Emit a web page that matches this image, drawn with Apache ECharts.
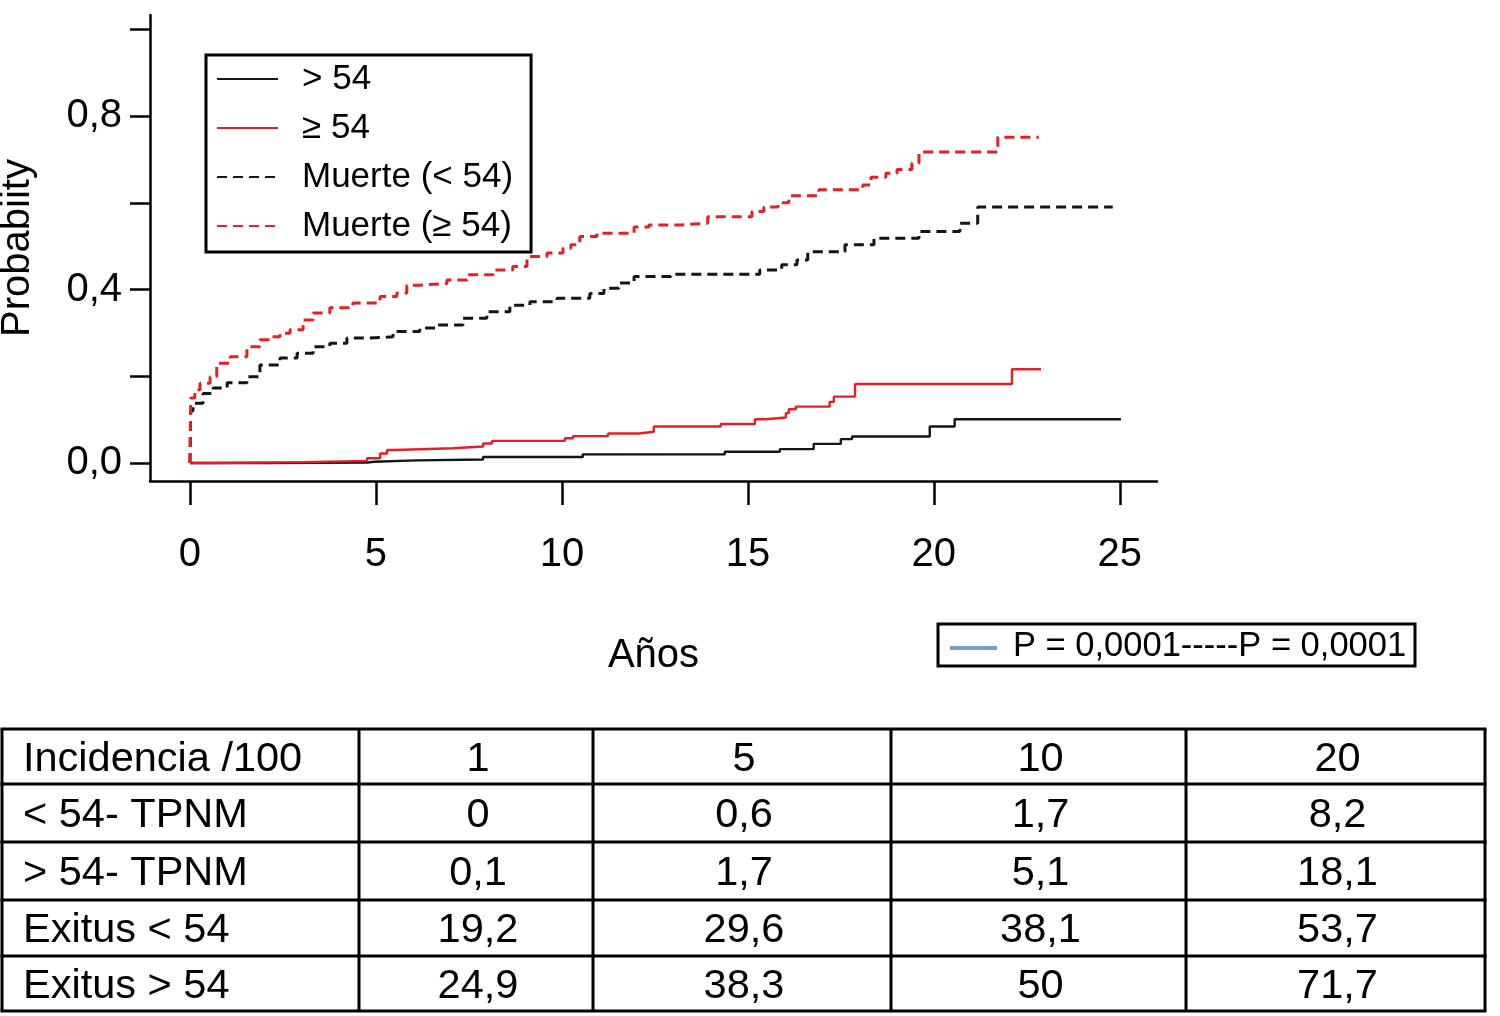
<!DOCTYPE html>
<html>
<head>
<meta charset="utf-8">
<script src="https://cdn.jsdelivr.net/npm/echarts@6/dist/echarts.min.js"></script>
<style>html,body{margin:0;padding:0;background:#fff}#c{width:1500px;height:1016px}</style>
</head>
<body>
<div id="c"></div>
<script>
// ---- data ----
const seriesNames = ['> 54', '\u2265 54', 'Muerte (< 54)', 'Muerte (\u2265 54)'];
const tpnmUnder = [[0,0],[2.10,0.001],[4.76,0.003],[4.95,0.006],[6.10,0.008],[7.88,0.014],[10.56,0.020],[14.38,0.026],[15.86,0.032],[16.77,0.044],[17.50,0.055],[17.80,0.061],[19.89,0.084],[20.56,0.101],[25.03,0.101]];
const tpnmOver = [[0,0],[0.62,0.002],[3.04,0.005],[4.76,0.011],[5.11,0.022],[5.30,0.030],[5.51,0.034],[7.07,0.038],[7.88,0.045],[8.12,0.051],[10.08,0.057],[10.30,0.062],[11.24,0.068],[12.07,0.072],[12.47,0.084],[14.27,0.090],[15.19,0.101],[15.48,0.105],[16.02,0.115],[16.10,0.124],[16.29,0.130],[17.20,0.141],[17.31,0.153],[17.88,0.182],[22.10,0.216],[22.88,0.216]];
const deathUnder = [[0,0],[0.02,0.12],[0.08,0.138],[0.35,0.16],[0.62,0.173],[1.0,0.185],[1.53,0.199],[1.88,0.226],[2.42,0.242],[2.88,0.253],[3.31,0.268],[3.76,0.276],[4.22,0.288],[4.76,0.291],[5.46,0.303],[6.18,0.311],[6.64,0.318],[7.34,0.334],[7.98,0.349],[8.60,0.364],[9.14,0.372],[9.87,0.38],[10.75,0.391],[11.13,0.403],[11.53,0.415],[11.94,0.43],[12.93,0.435],[15.32,0.445],[15.91,0.457],[16.32,0.468],[16.61,0.487],[17.61,0.503],[18.39,0.518],[19.60,0.534],[20.70,0.553],[21.18,0.59],[24.81,0.59]];
const deathOver = [[0,0],[0.02,0.15],[0.13,0.169],[0.27,0.184],[0.54,0.199],[0.72,0.23],[1.08,0.245],[1.53,0.268],[1.88,0.284],[2.15,0.291],[2.42,0.299],[2.69,0.307],[3.04,0.33],[3.31,0.346],[3.76,0.358],[4.38,0.369],[5.11,0.384],[5.56,0.392],[5.83,0.41],[6.18,0.414],[6.91,0.422],[7.45,0.434],[8.15,0.445],[8.68,0.453],[9.06,0.476],[9.60,0.484],[10.03,0.495],[10.24,0.503],[10.48,0.522],[10.94,0.53],[11.94,0.544],[12.34,0.549],[13.23,0.553],[13.92,0.568],[15.11,0.58],[15.43,0.59],[15.81,0.60],[16.10,0.616],[16.91,0.63],[18.09,0.641],[18.31,0.659],[18.71,0.668],[19.01,0.677],[19.41,0.691],[19.60,0.717],[21.72,0.751],[22.82,0.751]];
const xTicks = [0, 5, 10, 15, 20, 25];
const yTicks = [0, 0.2, 0.4, 0.6, 0.8, 1.0];
const yLabels = [0, 0.4, 0.8];
const pText = 'P = 0,0001-----P = 0,0001';
const tableHeader = ['Incidencia /100', '1', '5', '10', '20'];
const rowLabels = ['< 54- TPNM', '> 54- TPNM', 'Exitus < 54', 'Exitus > 54'];
const rowTpnmUnder = [0, 0.6, 1.7, 8.2];
const rowTpnmOver = [0.1, 1.7, 5.1, 18.1];
const rowExitusUnder = [19.2, 29.6, 38.1, 53.7];
const rowExitusOver = [24.9, 38.3, 50, 71.7];

// ---- layout/style ----
const FONT = '"Liberation Sans", Arial, Helvetica, sans-serif';
const RED = '#e41f26', BLACK = '#141414';
const fmt = v => String(v).replace('.', ',');

const chart = echarts.init(document.getElementById('c'), null, {renderer: 'canvas'});

// table graphic
const tableRows = [tableHeader].concat(rowLabels.map((l, i) => [l].concat([rowTpnmUnder, rowTpnmOver, rowExitusUnder, rowExitusOver][i].map(fmt))));
const colX = [2, 359, 593, 891, 1186, 1485];
const rowY = [729, 784, 842, 900, 956, 1011];
const tableEls = [];
rowY.forEach(y => tableEls.push({type: 'line', shape: {x1: colX[0] - 1.5, y1: y, x2: colX[5] + 1.5, y2: y}, style: {stroke: '#000', lineWidth: 3}}));
colX.forEach(x => tableEls.push({type: 'line', shape: {x1: x, y1: rowY[0], x2: x, y2: rowY[5]}, style: {stroke: '#000', lineWidth: 3}}));
tableRows.forEach((row, r) => {
  row.forEach((txt, c) => {
    const cy = (rowY[r] + rowY[r + 1]) / 2 + 3;
    tableEls.push({
      type: 'text',
      x: c === 0 ? 23 : (colX[c] + colX[c + 1]) / 2 + 2,
      y: cy,
      style: {text: txt, font: '41.5px ' + FONT, fill: '#000', align: c === 0 ? 'left' : 'center', verticalAlign: 'middle'}
    });
  });
});

const pEls = [
  {type: 'rect', shape: {x: 938, y: 624, width: 477, height: 42}, style: {fill: 'none', stroke: '#000', lineWidth: 3}},
  {type: 'line', shape: {x1: 950, y1: 648, x2: 997, y2: 648}, style: {stroke: '#7b9cc8', lineWidth: 4}},
  {type: 'text', x: 1013, y: 646, style: {text: pText, font: '34.5px ' + FONT, fill: '#000', align: 'left', verticalAlign: 'middle'}}
];

const mk = (name, data, color, dashed) => ({
  name, type: 'line', data, step: 'end', showSymbol: false, symbol: 'none', animation: false,
  lineStyle: {color, width: dashed ? 3 : 2.4, type: dashed ? [10, 6] : 'solid'},
  itemStyle: {color},
  emphasis: {disabled: true}
});

chart.setOption({
  backgroundColor: '#fff',
  animation: false,
  textStyle: {fontFamily: FONT},
  grid: {left: 150, right: 343, top: 15, bottom: 535, containLabel: false, outerBoundsMode: 'none'},
  legend: {
    orient: 'vertical', left: 206, top: 55, selectedMode: false,
    data: seriesNames,
    borderColor: '#000', borderWidth: 3, padding: [6, 18, 8, 10],
    itemWidth: 61, itemHeight: 2, itemGap: 13,
    itemStyle: {opacity: 0},
    textStyle: {fontSize: 35, color: '#000', fontFamily: FONT, lineHeight: 36, padding: [0, 0, 0, 19]}
  },
  xAxis: {
    type: 'value', min: -1.075, max: 26,
    axisLine: {show: true, onZero: false, lineStyle: {color: '#000', width: 2.5}},
    axisTick: {show: true, customValues: xTicks, length: 24, lineStyle: {color: '#000', width: 2.5}},
    axisLabel: {customValues: xTicks, fontSize: 40, color: '#000', margin: 54, fontFamily: FONT},
    splitLine: {show: false},
    name: 'A\u00f1os', nameLocation: 'middle', nameGap: 155,
    nameTextStyle: {fontSize: 40, color: '#000', fontFamily: FONT}
  },
  yAxis: {
    type: 'value', min: -0.0415, max: 1.033,
    axisLine: {show: true, onZero: false, lineStyle: {color: '#000', width: 2.5}},
    axisTick: {show: true, customValues: yTicks, length: 20, lineStyle: {color: '#000', width: 2.5}},
    axisLabel: {customValues: yLabels, fontSize: 40, color: '#000', margin: 28, fontFamily: FONT, formatter: v => v.toFixed(1).replace('.', ',')},
    splitLine: {show: false},
    name: 'Probabiity', nameLocation: 'middle', nameGap: 112, nameRotate: 90,
    nameTextStyle: {fontSize: 40, color: '#000', fontFamily: FONT}
  },
  series: [
    mk(seriesNames[0], tpnmUnder, BLACK, false),
    mk(seriesNames[1], tpnmOver, RED, false),
    mk(seriesNames[2], deathUnder, BLACK, true),
    mk(seriesNames[3], deathOver, RED, true)
  ],
  graphic: tableEls.concat(pEls)
});
</script>
</body>
</html>
